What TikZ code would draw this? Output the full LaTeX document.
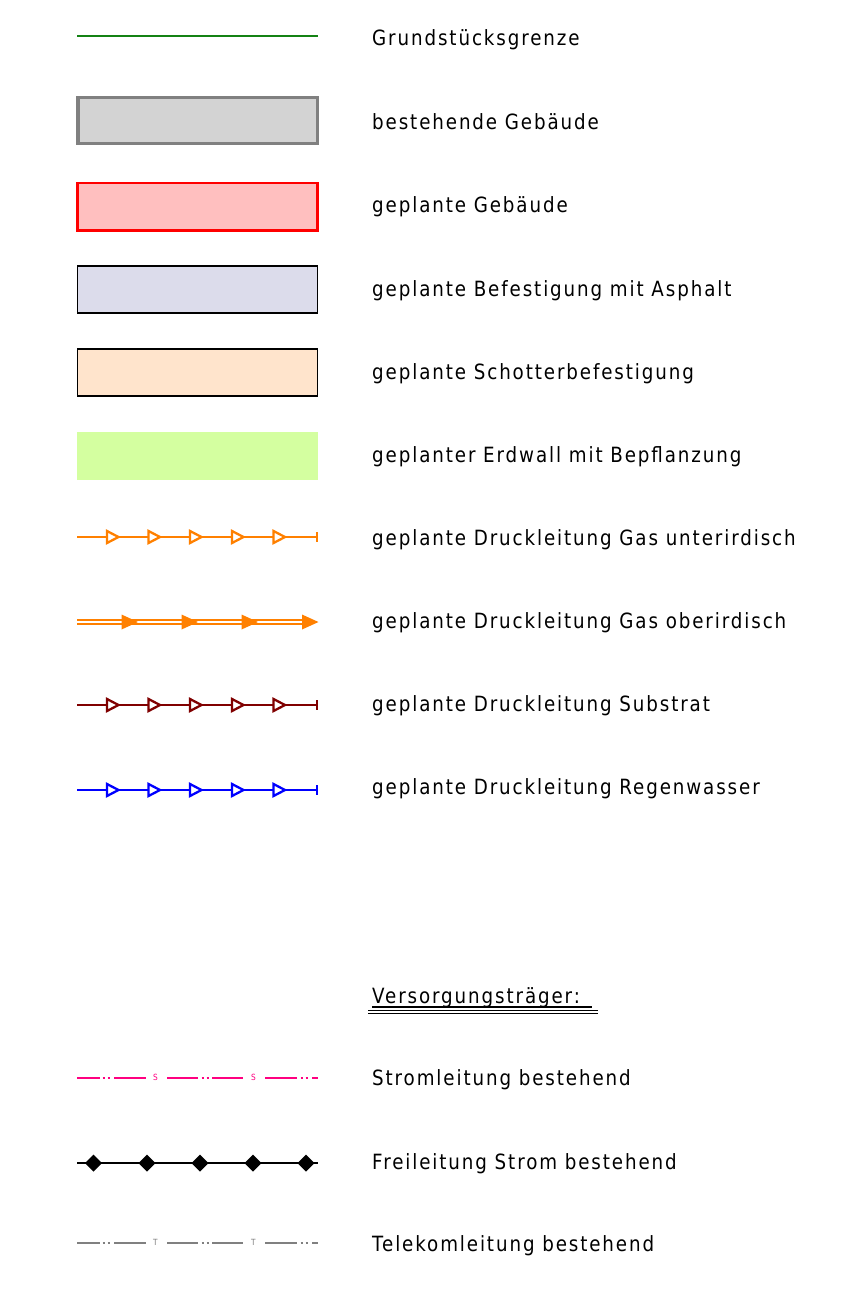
\documentclass[tikz,border=0pt]{standalone}
\usepackage{fontspec}
\setmainfont{DejaVu Sans}[FakeStretch=0.87,LetterSpace=9]
\definecolor{grenz}{RGB}{20,130,20}
\definecolor{bestfill}{RGB}{211,211,211}
\definecolor{bestdraw}{RGB}{128,128,128}
\definecolor{planfill}{RGB}{255,191,191}
\definecolor{asphfill}{RGB}{220,220,235}
\definecolor{schofill}{RGB}{255,228,204}
\definecolor{wallfill}{RGB}{212,255,160}
\definecolor{gasor}{RGB}{255,128,0}
\definecolor{subst}{RGB}{128,0,0}
\definecolor{regen}{RGB}{0,0,255}
\definecolor{strom}{RGB}{255,0,128}
\definecolor{tele}{RGB}{128,128,128}
\tikzset{
  lbl/.style={anchor=base west, inner sep=0pt, font=\fontsize{21}{25}\selectfont},
}
\newcommand{\openline}[2]{%
  \draw[#1, line width=2.3pt] (77,#2) -- (318,#2);
  \foreach \xx in {107,148.5,190,232,273.5}{
    \draw[#1, line width=2.3pt, fill=white, line join=miter] (\xx,#2-6) -- (\xx+11.5,#2) -- (\xx,#2+6) -- cycle;
  }
  \draw[#1, line width=2.8pt] (317,#2-5) -- (317,#2+5);
}
\newcommand{\dotline}[4]{%
  \foreach \aa/\bb in {77/100,114/146,167/198,212/243,265/297,312/318}{
    \draw[#1, line width=#4] (\aa,#2) -- (\bb,#2);
  }
  \foreach \xx in {103.5,108.5,202.5,207.5,301.5,306.5}{
    \draw[#1, line width=#4] (\xx-1,#2) -- (\xx+1,#2);
  }
  \foreach \xx in {155.5,253.5}{
    \node[#1, inner sep=0pt, font=\fontsize{8.5}{9}\selectfont] at (\xx,#2-1) {#3};
  }
}
\begin{document}
\begin{tikzpicture}[x=1pt,y=-1pt]
\useasboundingbox (0,0) rectangle (865,1302);
% row 1
\draw[grenz, line width=2pt] (77,35.5) -- (318,35.5);
\node[lbl] (t1) at (372,45) {Grundstücksgrenze};
% row 2
\draw[bestdraw, fill=bestfill, line width=3.8pt] (78,97.5) rectangle (317.5,143.5);
\node[lbl] (t2) at (372,129) {bestehende Gebäude};
% row 3
\draw[red, fill=planfill, line width=2.4pt] (77.5,183) rectangle (317.5,230.5);
\node[lbl] (t3) at (372,212) {geplante Gebäude};
% row 4
\draw[black, fill=asphfill, line width=1.8pt] (77.5,266) rectangle (317.5,313);
\node[lbl] (t4) at (372,296) {geplante Befestigung mit Asphalt};
% row 5
\draw[black, fill=schofill, line width=1.8pt] (77.5,349) rectangle (317.5,396);
\node[lbl] (t5) at (372,379) {geplante Schotterbefestigung};
% row 6
\fill[wallfill] (77,432) rectangle (318,480);
\node[lbl] (t6) at (372,462) {geplanter Erdwall mit Bepflanzung};
% row 7
\openline{gasor}{537}
\node[lbl] (t7) at (372,545) {geplante Druckleitung Gas unterirdisch};
% row 8
\draw[gasor, double=white, double distance=1.8pt, line width=2pt] (77,622) -- (310,622);
\foreach \xx in {121.5,181.5,241.5,302}{
  \fill[gasor] (\xx,614.5) -- (\xx+16.5,622) -- (\xx,629.5) -- cycle;
}
\node[lbl] (t8) at (372,628) {geplante Druckleitung Gas oberirdisch};
% row 9
\openline{subst}{705}
\node[lbl] (t9) at (372,711) {geplante Druckleitung Substrat};
% row 10
\openline{regen}{790}
\node[lbl] (t10) at (372,794) {geplante Druckleitung Regenwasser};
% heading
\node[lbl] (h) at (372,1003) {Versorgungsträger:};
\draw[black, line width=1.4pt] (372,1007) -- (592,1007);
\draw[black, line width=1.4pt] (368,1010.5) -- (598,1010.5);
\draw[black, line width=1.4pt] (368,1013.5) -- (598,1013.5);
% Strom
\dotline{strom}{1078}{S}{2pt}
\node[lbl] (t11) at (372,1085) {Stromleitung bestehend};
% Freileitung
\draw[black, line width=1.8pt] (77,1163) -- (318,1163);
\foreach \xx in {93.5,147,200,253,306}{
  \fill[black] (\xx-8.5,1163) -- (\xx,1154.5) -- (\xx+8.5,1163) -- (\xx,1171.5) -- cycle;
}
\node[lbl] (t12) at (372,1169) {Freileitung Strom bestehend};
% Telekom
\dotline{tele}{1243}{T}{1.7pt}
\node[lbl] (t13) at (372,1251) {Telekomleitung bestehend};
\end{tikzpicture}
\end{document}
